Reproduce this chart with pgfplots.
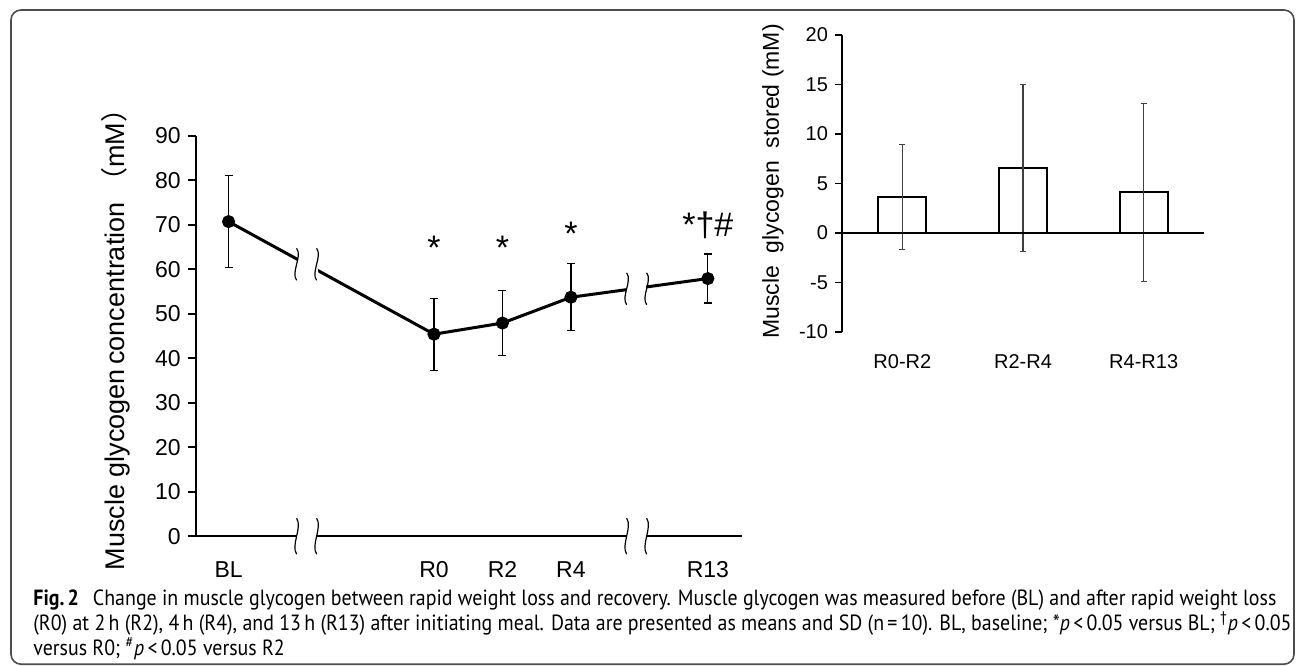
\documentclass[border=0pt]{standalone}
\usepackage{pgfplots}
\pgfplotsset{compat=1.18}
\usepackage{fontspec}
\usepackage{graphicx}
\setmainfont{Liberation Sans}
\newfontfamily\capfont{PT Sans}
\newfontfamily\cjk{Noto Sans CJK SC}
\newlength\capw
\newcommand\lineA{\textbf{Fig.\,2}\hspace{0.7em}Change in muscle glycogen between rapid weight loss and recovery. Muscle glycogen was measured before (BL) and after rapid weight loss}
\newcommand\lineB{(R0) at 2\,h (R2), 4\,h (R4), and 13\,h (R13) after initiating meal. Data are presented as means and SD (n\,=\,10). BL, baseline; *\textit{p}\,<\,0.05 versus BL; \textsuperscript{†}\textit{p}\,<\,0.05}
\newcommand\lineC{versus R0; \textsuperscript{\#}\textit{p}\,<\,0.05 versus R2}
\newcommand\capsize{\fontsize{11}{13}\selectfont}
\newcommand\brk[3]{%
  \begin{scope}[shift={(axis cs:#1,#2)}]
    \fill[white] (-5pt,#3pt) .. controls (-2pt,#3pt/2) and (-8pt,-#3pt/2) .. (-5pt,-#3pt)
       -- (5pt,-#3pt) .. controls (8pt,-#3pt/2) and (2pt,#3pt/2) .. (5pt,#3pt) -- cycle;
    \draw[line width=0.6pt] (-5pt,#3pt) .. controls (-2pt,#3pt/2) and (-8pt,-#3pt/2) .. (-5pt,-#3pt);
    \draw[line width=0.6pt] (5pt,#3pt) .. controls (8pt,#3pt/2) and (2pt,-#3pt/2) .. (5pt,-#3pt);
  \end{scope}}
\begin{document}
\begin{tikzpicture}[x=1pt,y=1pt]
\draw[black!70, line width=0.8pt, rounded corners=5pt] (5.5,0.4) rectangle (647,327.5);

% ---------- left chart ----------
\begin{axis}[
  at={(97.85pt,64.4pt)}, anchor=south west,
  scale only axis, width=273.2pt, height=200.25pt,
  clip=false,
  xmin=-0.48, xmax=7.5, ymin=0, ymax=90,
  axis lines=left, axis line style={-, line width=0.9pt},
  xtick={0,3,4,5,7}, xticklabels={BL,R0,R2,R4,R13},
  x tick style={draw=none},
  xticklabel style={font=\fontsize{11.5}{13}\selectfont, yshift=-5pt},
  ytick={0,10,...,90},
  tick align=outside, major tick length=4pt,
  y tick style={line width=0.8pt, black},
  yticklabel style={font=\fontsize{11.5}{13}\selectfont},
  /pgf/number format/assume math mode=true,
]
\addplot[black, line width=1.5pt, mark=*, mark size=2.5pt,
  error bars/.cd, y dir=both, y explicit,
  error bar style={line width=0.6pt},
  error mark options={rotate=90, mark size=2pt, line width=0.6pt}]
  table[x=x, y=y, y error=e] {
  x y e
  0 70.7 10.4
  3 45.4 8.1
  4 47.9 7.35
  5 53.7 7.5
  7 57.9 5.5
  };
\brk{1.14}{61.1}{8}
\brk{1.14}{0}{9}
\brk{5.96}{55.6}{8}
\brk{5.96}{0}{9}
\node[anchor=base, yshift=-9.5pt, font=\fontsize{17}{17}\selectfont] at (axis cs:3,66.4) {*};
\node[anchor=base, yshift=-9.5pt, font=\fontsize{17}{17}\selectfont] at (axis cs:4,66.4) {*};
\node[anchor=base, yshift=-9.5pt, font=\fontsize{17}{17}\selectfont] at (axis cs:5,69.7) {*};
\node[anchor=base, yshift=-9.5pt, font=\fontsize{17}{17}\selectfont] at (axis cs:7,71.6) {*†\#};
\end{axis}

\node[rotate=90, font=\fontsize{13.5}{15}\selectfont] at (58,166) {Muscle glycogen\,concentration {\cjk （}mM{\cjk ）}};

% ---------- right chart ----------
\begin{axis}[
  at={(421pt,166.5pt)}, anchor=south west,
  scale only axis, width=181pt, height=148.5pt,
  xmin=0.5, xmax=3.5, ymin=-10, ymax=20,
  axis y line=left, axis x line=bottom,
  x axis line style={draw=none},
  y axis line style={-, line width=1pt},
  xtick={1,2,3}, xticklabels={R0-R2,R2-R4,R4-R13},
  x tick style={draw=none},
  xticklabel style={font=\fontsize{10}{11}\selectfont, yshift=-4pt},
  ytick={-10,-5,...,20},
  tick align=outside, major tick length=3.5pt,
  y tick style={line width=0.8pt, black},
  yticklabel style={font=\fontsize{10}{11}\selectfont},
  /pgf/number format/assume math mode=true,
]
\addplot[ybar, bar width=24pt, fill=white, draw=black, line width=1pt,
  error bars/.cd, y dir=both, y explicit,
  error bar style={black!75, line width=0.6pt},
  error mark options={rotate=90, mark size=1.5pt, black!75, line width=0.6pt}]
  table[x=x, y=y, y error=e] {
  x y e
  1 3.65 5.3
  2 6.55 8.45
  3 4.1 9.0
  };
\draw[line width=1pt] (axis cs:0.5,0) -- (axis cs:3.5,0);
\end{axis}

\node[rotate=90, font=\fontsize{11.5}{13}\selectfont] at (386.5,241.75) {Muscle\ \ glycogen\ \ stored (mM)};

% ---------- caption ----------
\node[anchor=base west, inner sep=0] at (16.5,30) {\capfont\capsize\settowidth{\capw}{\lineA}\pgfmathsetmacro\capsx{621.5/\capw}\global\let\capsxg\capsx\scalebox{\capsxg}[1]{\lineA}};
\node[anchor=base west, inner sep=0] at (16.5,17.5) {\capfont\capsize\scalebox{\capsxg}[1]{\lineB}};
\node[anchor=base west, inner sep=0] at (16.5,5) {\capfont\capsize\scalebox{\capsxg}[1]{\lineC}};

\pgfresetboundingbox
\path[use as bounding box] (0,0) rectangle (648,332.5);
\end{tikzpicture}
\end{document}
